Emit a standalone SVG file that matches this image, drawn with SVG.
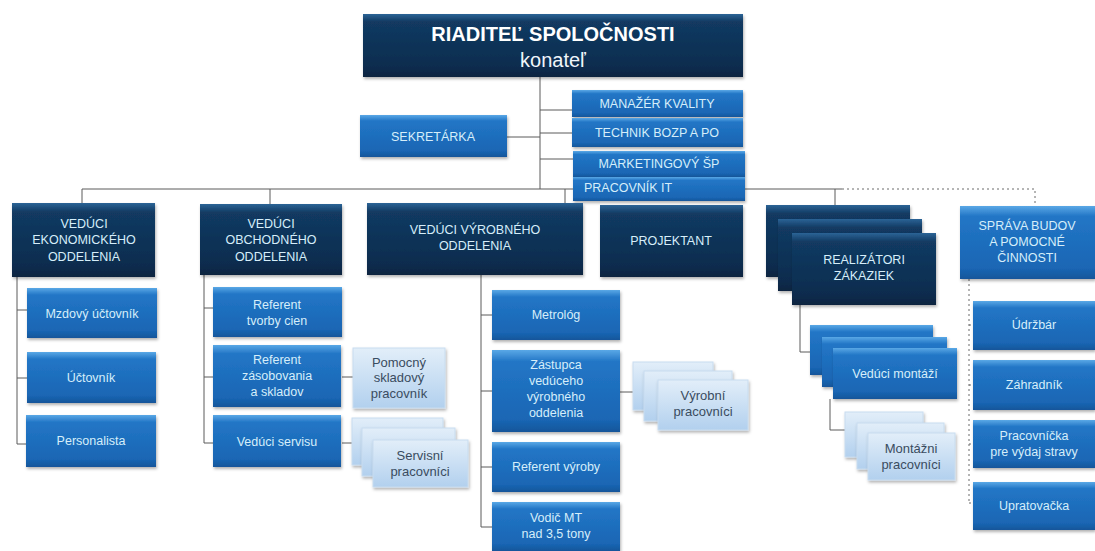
<svg xmlns="http://www.w3.org/2000/svg" width="1095" height="551" viewBox="0 0 1095 551">
<defs>
<linearGradient id="gDark" x1="0" y1="0" x2="0" y2="1">
<stop offset="0" stop-color="#2c6496"/><stop offset="0.12" stop-color="#123a62"/><stop offset="0.85" stop-color="#0c2c4e"/><stop offset="1" stop-color="#0a2440"/>
</linearGradient>
<linearGradient id="gBlue" x1="0" y1="0" x2="0" y2="1">
<stop offset="0" stop-color="#5aa8e6"/><stop offset="0.14" stop-color="#2276c6"/><stop offset="0.85" stop-color="#1a66b4"/><stop offset="1" stop-color="#15569a"/>
</linearGradient>
<linearGradient id="gLight" x1="0" y1="0" x2="0" y2="1">
<stop offset="0" stop-color="#e2eef9"/><stop offset="1" stop-color="#b2d0ee"/>
</linearGradient>
<filter id="sh" x="-10%" y="-10%" width="125%" height="135%">
<feDropShadow dx="1" dy="2" stdDeviation="1.5" flood-color="#000" flood-opacity="0.3"/>
</filter>
<style>
.dk{fill:url(#gDark);filter:url(#sh)}
.bl{fill:url(#gBlue);filter:url(#sh)}
.lt{fill:url(#gLight);stroke:#c8dcef;stroke-width:1;filter:url(#sh)}
.t{font-family:"Liberation Sans",Arial,sans-serif;font-size:12.5px;fill:#d6eefa;text-anchor:middle}
.tl{font-family:"Liberation Sans",Arial,sans-serif;font-size:13px;fill:#3a4c60;text-anchor:middle}
.ln{stroke:#5a5a5a;stroke-width:1;fill:none}
.dl{stroke:#6a6a6a;stroke-width:1;fill:none;stroke-dasharray:2 3}
</style>
</defs>
<rect width="1095" height="551" fill="#ffffff"/>

<g id="connectors">
<path class="ln" d="M540 77V189M507 137H540M540 110H572M540 133H572M540 159H573"/>
<path class="ln" d="M82 189H842M82 189V203M270 189V204M565 189V203M835 189V205"/>
<path class="dl" d="M842 189H1035V206"/>
<path class="ln" d="M17 277V444M17 310H27M17 378H27M17 444H27"/>
<path class="ln" d="M204 275V443M204 308H213M204 377H213M204 443H213M342 377H353M342 443H352"/>
<path class="ln" d="M481 275V527M481 315H492M481 391H492M481 467H492M481 527H492M620 392H633"/>
<path class="ln" d="M800 305V352H810M830 399V430H845"/>
<path class="dl" d="M969 279V503M969 325H973M969 385H973M969 444H973M969 503H973"/>
</g>

<g id="n-riaditel">
<rect class="dk" x="363" y="14" width="380" height="63"/>
<text class="t" x="553" y="41" style="font-size:20px;font-weight:bold;fill:#ffffff">RIADITEĽ SPOLOČNOSTI</text>
<text class="t" x="553" y="67" style="font-size:20px;fill:#f0f6fb">konateľ</text>
</g>
<g id="n-sekretarka">
<rect class="bl" x="360" y="115" width="147" height="42"/>
<text class="t" x="433" y="141">SEKRETÁRKA</text>
</g>
<g id="n-manazer">
<rect class="bl" x="572" y="90" width="171" height="27"/>
<text class="t" x="657" y="108">MANAŽÉR KVALITY</text>
</g>
<g id="n-technik">
<rect class="bl" x="572" y="118" width="171" height="29"/>
<text class="t" x="657" y="137">TECHNIK BOZP A PO</text>
</g>
<g id="n-marketing">
<rect class="bl" x="573" y="151" width="172" height="26"/>
<text class="t" x="659" y="168">MARKETINGOVÝ ŠP</text>
</g>
<g id="n-it">
<rect class="bl" x="573" y="177" width="172" height="24"/>
<text class="t" x="584" y="192" style="text-anchor:start">PRACOVNÍK IT</text>
</g>

<g id="n-ekonom">
<rect class="dk" x="12" y="203" width="143" height="74"/>
<text class="t" x="84" y="228">VEDÚCI</text>
<text class="t" x="84" y="244">EKONOMICKÉHO</text>
<text class="t" x="84" y="261">ODDELENIA</text>
</g>
<g id="n-obchod">
<rect class="dk" x="200" y="204" width="142" height="71"/>
<text class="t" x="271" y="228">VEDÚCI</text>
<text class="t" x="271" y="244">OBCHODNÉHO</text>
<text class="t" x="271" y="261">ODDELENIA</text>
</g>
<g id="n-vyroba">
<rect class="dk" x="367" y="203" width="216" height="72"/>
<text class="t" x="475" y="234">VEDÚCI VÝROBNÉHO</text>
<text class="t" x="475" y="250">ODDELENIA</text>
</g>
<g id="n-projektant">
<rect class="dk" x="600" y="205" width="143" height="72"/>
<text class="t" x="671" y="245">PROJEKTANT</text>
</g>
<g id="n-realizatori">
<rect class="dk" x="766" y="205" width="144" height="72"/>
<rect class="dk" x="778" y="219" width="144" height="72"/>
<rect class="dk" x="792" y="233" width="144" height="72"/>
<text class="t" x="864" y="264">REALIZÁTORI</text>
<text class="t" x="864" y="280">ZÁKAZIEK</text>
</g>
<g id="n-sprava">
<rect class="bl" x="960" y="206" width="135" height="73"/>
<text class="t" x="1027" y="230">SPRÁVA BUDOV</text>
<text class="t" x="1027" y="246">A POMOCNÉ</text>
<text class="t" x="1027" y="262">ČINNOSTI</text>
</g>

<g id="n-mzdovy">
<rect class="bl" x="27" y="288" width="130" height="50"/>
<text class="t" x="92" y="318">Mzdový účtovník</text>
</g>
<g id="n-uctovnik">
<rect class="bl" x="27" y="352" width="129" height="51"/>
<text class="t" x="91" y="382">Účtovník</text>
</g>
<g id="n-personalista">
<rect class="bl" x="26" y="415" width="130" height="52"/>
<text class="t" x="91" y="445">Personalista</text>
</g>

<g id="n-ref-cien">
<rect class="bl" x="213" y="287" width="129" height="50"/>
<text class="t" x="277" y="309">Referent</text>
<text class="t" x="277" y="325">tvorby cien</text>
</g>
<g id="n-ref-zasob">
<rect class="bl" x="213" y="345" width="128" height="62"/>
<text class="t" x="277" y="364">Referent</text>
<text class="t" x="277" y="380">zásobovania</text>
<text class="t" x="277" y="396">a skladov</text>
</g>
<g id="n-ved-servisu">
<rect class="bl" x="213" y="415" width="128" height="52"/>
<text class="t" x="277" y="446">Vedúci servisu</text>
</g>
<g id="n-pomocny">
<rect class="lt" x="353" y="348" width="92" height="60"/>
<text class="tl" x="399" y="367">Pomocný</text>
<text class="tl" x="399" y="382">skladový</text>
<text class="tl" x="399" y="398">pracovník</text>
</g>
<g id="n-servisni">
<rect class="lt" x="352" y="418" width="91" height="47"/>
<rect class="lt" x="362" y="428" width="93" height="48"/>
<rect class="lt" x="373" y="440" width="95" height="47"/>
<text class="tl" x="420" y="460">Servisní</text>
<text class="tl" x="420" y="476">pracovníci</text>
</g>

<g id="n-metrolog">
<rect class="bl" x="492" y="290" width="128" height="50"/>
<text class="t" x="556" y="319">Metrológ</text>
</g>
<g id="n-zastupca">
<rect class="bl" x="492" y="350" width="128" height="82"/>
<text class="t" x="556" y="369">Zástupca</text>
<text class="t" x="556" y="385">vedúceho</text>
<text class="t" x="556" y="401">výrobného</text>
<text class="t" x="556" y="417">oddelenia</text>
</g>
<g id="n-ref-vyroby">
<rect class="bl" x="492" y="442" width="128" height="50"/>
<text class="t" x="556" y="471">Referent výroby</text>
</g>
<g id="n-vodic">
<rect class="bl" x="492" y="502" width="128" height="49"/>
<text class="t" x="556" y="522">Vodič MT</text>
<text class="t" x="556" y="538">nad 3,5 tony</text>
</g>
<g id="n-vyrobni">
<rect class="lt" x="633" y="362" width="80" height="48"/>
<rect class="lt" x="644" y="371" width="88" height="50"/>
<rect class="lt" x="658" y="380" width="90" height="50"/>
<text class="tl" x="703" y="400">Výrobní</text>
<text class="tl" x="703" y="416">pracovníci</text>
</g>

<g id="n-ved-montazi">
<rect class="bl" x="810" y="325" width="123" height="50"/>
<rect class="bl" x="822" y="337" width="125" height="50"/>
<rect class="bl" x="833" y="348" width="124" height="51"/>
<text class="t" x="895" y="378">Vedúci montáží</text>
</g>
<g id="n-montazni">
<rect class="lt" x="845" y="412" width="78" height="45"/>
<rect class="lt" x="857" y="423" width="87" height="46"/>
<rect class="lt" x="868" y="433" width="87" height="47"/>
<text class="tl" x="911" y="453">Montážni</text>
<text class="tl" x="911" y="469">pracovníci</text>
</g>

<g id="n-udrzbar">
<rect class="bl" x="973" y="301" width="122" height="49"/>
<text class="t" x="1034" y="329">Údržbár</text>
</g>
<g id="n-zahradnik">
<rect class="bl" x="973" y="360" width="122" height="50"/>
<text class="t" x="1034" y="389">Záhradník</text>
</g>
<g id="n-pracovnicka">
<rect class="bl" x="973" y="420" width="122" height="48"/>
<text class="t" x="1034" y="440">Pracovníčka</text>
<text class="t" x="1034" y="456">pre výdaj stravy</text>
</g>
<g id="n-upratovacka">
<rect class="bl" x="973" y="482" width="122" height="48"/>
<text class="t" x="1034" y="510">Upratovačka</text>
</g>
</svg>
